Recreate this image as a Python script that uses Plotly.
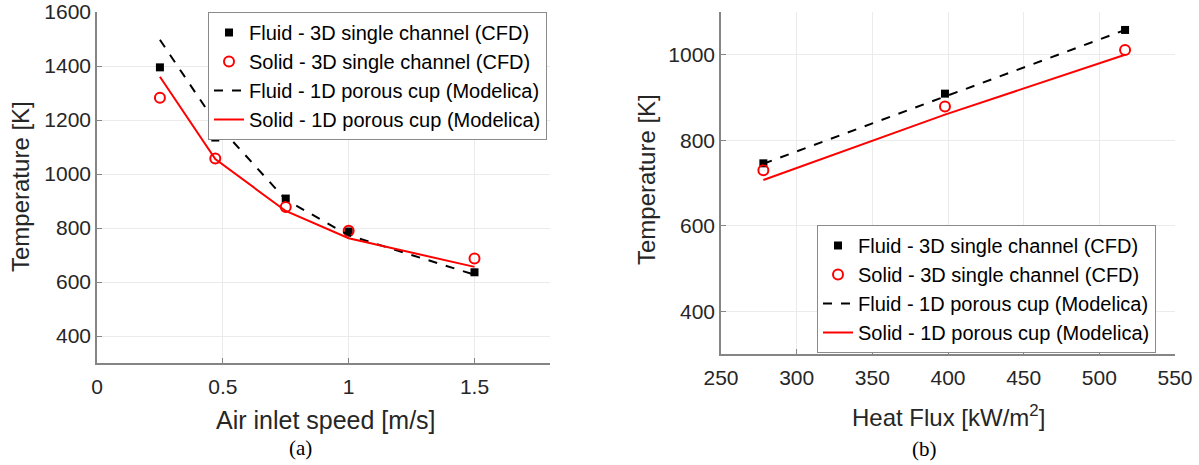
import plotly.graph_objects as go
from plotly.subplots import make_subplots

# (a) temperature vs air inlet speed
speed = [0.25, 0.47, 0.75, 1.0, 1.5]
fluid_cfd_a = [1395, 1135, 909, 787, 636]
solid_cfd_a = [1282, 1057, 878, 790, 687]
fluid_1d_a = [1497, 1192, 905, 773, 627]
solid_1d_a = [1360, 1055, 863, 762, 656]

# (b) temperature vs heat flux
flux = [278, 398, 517]
fluid_cfd_b = [746, 909, 1058]
solid_cfd_b = [730, 879, 1011]
fluid_1d_b = [745, 902, 1058]
solid_1d_b = [707, 860, 1000]

names = [
    "Fluid - 3D single channel (CFD)",
    "Solid - 3D single channel (CFD)",
    "Fluid - 1D porous cup (Modelica)",
    "Solid - 1D porous cup (Modelica)",
]

FONT = "Liberation Sans, Arial, sans-serif"
SERIF = "Liberation Serif, Times New Roman, serif"
TXT = "#262626"
AX = "#858585"
GRID = "#ebebeb"
W, H = 1199, 465

fig = make_subplots(rows=1, cols=2)


def add_panel(x, fc, sc, f1, s1, col, legend):
    fig.add_trace(go.Scatter(
        x=x, y=fc, mode="markers", name=names[0], legend=legend,
        marker=dict(symbol="square", size=8, color="black"),
    ), row=1, col=col)
    fig.add_trace(go.Scatter(
        x=x, y=sc, mode="markers", name=names[1], legend=legend,
        marker=dict(symbol="circle-open", size=10, color="red",
                    line=dict(width=2, color="red")),
    ), row=1, col=col)
    fig.add_trace(go.Scatter(
        x=x, y=f1, mode="lines", name=names[2], legend=legend,
        line=dict(color="black", width=2, dash="dash"),
    ), row=1, col=col)
    fig.add_trace(go.Scatter(
        x=x, y=s1, mode="lines", name=names[3], legend=legend,
        line=dict(color="red", width=2),
    ), row=1, col=col)


add_panel(speed, fluid_cfd_a, solid_cfd_a, fluid_1d_a, solid_1d_a, 1, "legend")
add_panel(flux, fluid_cfd_b, solid_cfd_b, fluid_1d_b, solid_1d_b, 2, "legend2")

axis_common = dict(
    showline=True, linecolor=AX, linewidth=1.5, mirror=False,
    showgrid=True, gridcolor=GRID, gridwidth=1, zeroline=False,
    ticks="inside", ticklen=5, tickcolor=AX, automargin=False,
    tickfont=dict(family=FONT, size=21, color=TXT),
)

fig.update_xaxes(axis_common, ticklabelstandoff=4)
fig.update_yaxes(axis_common)

fig.update_xaxes(range=[0, 1.8], tickvals=[0, 0.5, 1, 1.5], ticktext=["0", "0.5", "1", "1.5"],
                 domain=[97 / W, 550 / W], row=1, col=1)
fig.update_yaxes(range=[300, 1600], tickvals=[400, 600, 800, 1000, 1200, 1400, 1600],
                 domain=[1 - 363 / H, 1 - 12 / H], row=1, col=1)
fig.update_xaxes(range=[250, 550], tickvals=[250, 300, 350, 400, 450, 500, 550],
                 domain=[721 / W, 1175 / W], row=1, col=2)
fig.update_yaxes(range=[300, 1100], tickvals=[400, 600, 800, 1000],
                 domain=[1 - 354 / H, 1 - 12 / H], row=1, col=2)

legend_style = dict(
    font=dict(family=FONT, size=20, color="black"),
    bgcolor="white", bordercolor="#8a8a8a", borderwidth=1,
    xanchor="left", yanchor="top", tracegroupgap=0,
)
fig.update_layout(
    legend=dict(x=208 / W, y=1 - 12 / H, **legend_style),
    legend2=dict(x=817 / W, y=1 - 225 / H, **legend_style),
)

annotations = [
    dict(text="Air inlet speed [m/s]", x=326 / W, y=1 - 420 / H, font=dict(size=25)),
    dict(text="Heat Flux [kW/m<sup>2</sup>]", x=948 / W, y=1 - 416 / H, font=dict(size=24)),
    dict(text="Temperature [K]", x=21 / W, y=1 - 187 / H, textangle=-90, font=dict(size=24)),
    dict(text="Temperature [K]", x=646 / W, y=1 - 180 / H, textangle=-90, font=dict(size=24)),
    dict(text="(a)", x=300 / W, y=1 - 448 / H, font=dict(size=21, family=SERIF, color="black")),
    dict(text="(b)", x=924 / W, y=1 - 449 / H, font=dict(size=21, family=SERIF, color="black")),
]
for a in annotations:
    f = dict(family=FONT, color=TXT)
    f.update(a.pop("font"))
    fig.add_annotation(xref="paper", yref="paper", xanchor="center", yanchor="middle",
                       showarrow=False, font=f, **a)

fig.update_layout(
    width=W, height=H,
    margin=dict(l=0, r=0, t=0, b=0),
    paper_bgcolor="white", plot_bgcolor="white",
    showlegend=True,
)

fig.write_html("out.html")
